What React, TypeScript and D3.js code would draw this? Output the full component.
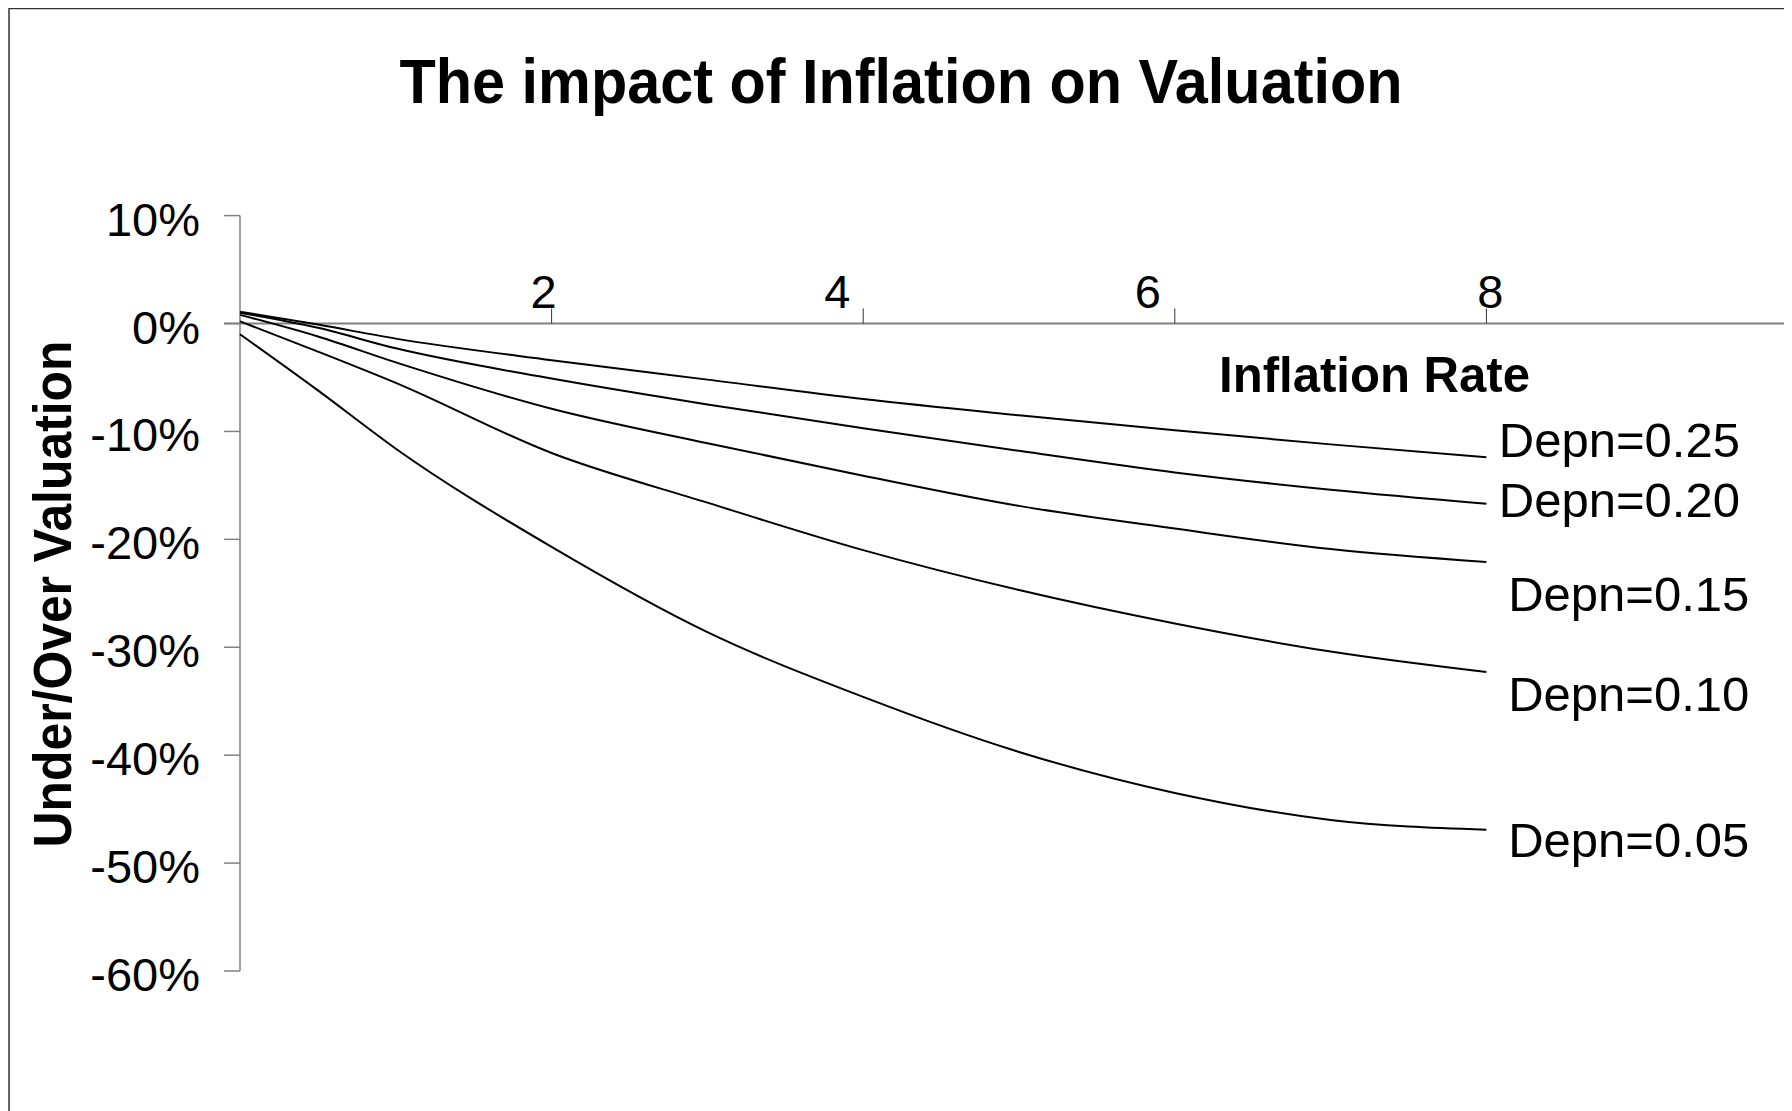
import React, { useEffect } from "react";
import * as d3 from "d3";

// inflation rate (x) and under/over valuation in % for each depreciation rate
const inflation = [0, 0.5, 1, 2, 3, 4, 5, 6, 7, 8];
const depn25 = [1.1, -0.1, -1.4, -3.4, -5.2, -7.0, -8.5, -9.9, -11.2, -12.4];
const depn20 = [1.0, -0.4, -2.3, -5.1, -7.5, -9.7, -11.8, -13.8, -15.4, -16.7];
const depn15 = [0.8, -1.2, -3.6, -7.9, -11.1, -14.1, -16.9, -19.0, -20.9, -22.1];
const depn10 = [0.2, -2.6, -5.5, -12.0, -16.6, -21.0, -24.7, -27.8, -30.4, -32.3];
const depn05 = [-1.0, -6.2, -11.6, -20.7, -28.6, -34.6, -39.7, -43.5, -46.0, -46.9];

const seriesNames = ["Depn=0.25", "Depn=0.20", "Depn=0.15", "Depn=0.10", "Depn=0.05"];
const seriesValues = [depn25, depn20, depn15, depn10, depn05];
// where each label sits, in data units (x, y of baseline)
const labelX = [8.08, 8.08, 8.14, 8.14, 8.14];
const labelY = [-12.4, -17.9, -26.6, -35.9, -49.4];

const xTicks = [2, 4, 6, 8];
const yTicks = [10, 0, -10, -20, -30, -40, -50, -60];

const W = 1784;
const H = 1103;
const font = "'Liberation Sans', Arial, sans-serif";

// the x tick labels are not quite centred in the original
const xLabelNudge = [-8, -26, -27, 4];

export default function App() {
  useEffect(() => {
    document.body.style.overflow = "hidden";
  }, []);

  const x = d3.scaleLinear().domain([0, 10]).range([232, 1790]);
  const y = d3.scaleLinear().domain([-60, 10]).range([963, 207.6]);

  const line = d3
    .line<[number, number]>()
    .x((d) => x(d[0]))
    .y((d) => y(d[1]))
    .curve(d3.curveMonotoneX);

  return (
    <svg width={W} height={H} style={{ display: "block" }} fontFamily={font}>
      <rect x={0} y={0} width={W} height={H} fill="white" />
      <rect x={1} y={0.5} width={W + 20} height={H + 20} fill="none" stroke="#333" strokeWidth={1.5} />

      <text x={893} y={95} textAnchor="middle" fontSize={63} fontWeight="bold" textLength={1003} lengthAdjust="spacingAndGlyphs">
        The impact of Inflation on Valuation
      </text>

      {/* y axis */}
      <line x1={x(0)} x2={x(0)} y1={y(10)} y2={y(-60)} stroke="#808080" strokeWidth={1.5} />
      {yTicks.map((t) => (
        <g key={t}>
          <line x1={x(0) - 16} x2={x(0)} y1={y(t)} y2={y(t)} stroke="#808080" strokeWidth={1.5} />
          <text x={192} y={y(t) + 20} textAnchor="end" fontSize={47}>
            {t + "%"}
          </text>
        </g>
      ))}

      {/* x axis along 0% */}
      <line x1={x(0) - 16} x2={W} y1={y(0)} y2={y(0)} stroke="#808080" strokeWidth={2} />
      {xTicks.map((t, i) => (
        <g key={t}>
          <line x1={x(t)} x2={x(t)} y1={y(0) - 15} y2={y(0)} stroke="#333" strokeWidth={1} />
          <text x={x(t) + xLabelNudge[i]} y={y(0) - 16} textAnchor="middle" fontSize={47}>
            {t}
          </text>
        </g>
      ))}

      <text x={1211} y={384} fontSize={50} fontWeight="bold" textLength={311} lengthAdjust="spacingAndGlyphs">
        Inflation Rate
      </text>

      <text
        transform={`translate(63,586) rotate(-90)`}
        textAnchor="middle"
        fontSize={54}
        fontWeight="bold"
        textLength={507}
        lengthAdjust="spacingAndGlyphs"
      >
        Under/Over Valuation
      </text>

      {seriesValues.map((vals, i) => (
        <path
          key={seriesNames[i]}
          d={line(inflation.map((v, j) => [v, vals[j]] as [number, number])) || ""}
          fill="none"
          stroke="#000"
          strokeWidth={2}
        />
      ))}

      {seriesNames.map((name, i) => (
        <text key={name} x={x(labelX[i])} y={y(labelY[i])} fontSize={49}>
          {name}
        </text>
      ))}
    </svg>
  );
}
